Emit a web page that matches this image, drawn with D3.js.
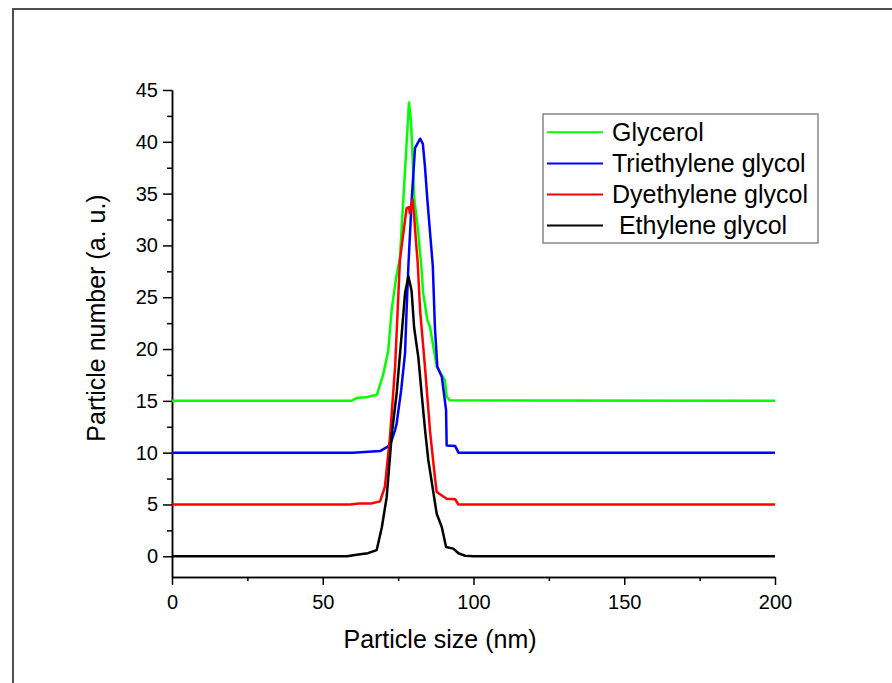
<!DOCTYPE html>
<html>
<head>
<meta charset="utf-8">
<script src="https://cdn.jsdelivr.net/npm/d3@7"></script>
<style>
  html, body { margin: 0; padding: 0; background: #fff; }
  svg { display: block; font-family: "Liberation Sans", Arial, sans-serif; }
</style>
</head>
<body>
<svg id="chart" width="892" height="683"></svg>
<script>
// particle size (nm), particle number (a. u.)
const glycerol = [
  [0, 15], [59.5, 15], [61.5, 15.3], [64.5, 15.35], [68, 15.6], [70, 17.5], [71.7, 19.8],
  [72.9, 23.9], [74.3, 26.8], [75.6, 28.8], [78.6, 43.8], [79.3, 41.8], [79.8, 38.5],
  [80.3, 34.7], [81.6, 31.5], [82.8, 27.6], [83.3, 25.4], [84.7, 22.8], [85.6, 22.1],
  [87.8, 18.3], [90.5, 17], [91.1, 15.4], [92.2, 15.05], [200, 15]
]
const triethylene = [
  [0, 10], [60, 10], [69, 10.15], [72.3, 10.7], [74, 12.2], [74.5, 12.8], [76, 16],
  [77.3, 19.6], [77.8, 23.7], [78.4, 28], [79.5, 34.4], [80.6, 39.4], [82.3, 40.3],
  [83.2, 39.8], [83.9, 37.6], [84.7, 34.4], [85.6, 31.2], [86.5, 28], [87.2, 22.1],
  [88, 18.3], [89.5, 17.3], [90.9, 14.1], [91.1, 10.7], [93.9, 10.65], [95, 10], [200, 10]
]
const dyethylene = [
  [0, 5], [59, 5], [62, 5.1], [66, 5.1], [69, 5.3], [70.6, 6.7], [72.3, 11.5], [74, 18.3],
  [75.6, 28.6], [77.8, 33.6], [78.6, 33.7], [78.9, 33.1], [79.8, 34.4], [80.3, 32.9],
  [80.9, 30.5], [81.5, 28.3], [82.3, 23.7], [83.9, 18.3], [85.6, 12], [87.2, 7.65],
  [87.8, 6.2], [91.1, 5.55], [93.9, 5.5], [95, 5], [200, 5]
]
const ethylene = [
  [0, 0], [58, 0], [62.4, 0.2], [65, 0.3], [67.9, 0.6], [69.6, 2.8], [71.2, 5.7],
  [72.3, 9.6], [72.9, 11.8], [74.5, 15.7], [76.2, 21.5], [77.3, 25.4], [78.4, 27],
  [79.2, 26], [79.5, 25.5], [80.3, 22.1], [81.7, 19.2], [82.8, 15.7], [84, 12], [85, 9.3],
  [87.8, 4.1], [89.5, 2.8], [90.9, 0.9], [93.3, 0.74], [95, 0.29], [97.2, 0.05],
  [100, 0], [200, 0]
]

const seriesNames = ["Glycerol", "Triethylene glycol", "Dyethylene glycol", " Ethylene glycol"]
const seriesColors = ["#00ff00", "#0000ff", "#ff0000", "#000000"]
const seriesData = [glycerol, triethylene, dyethylene, ethylene]

const xMajor = [0, 50, 100, 150, 200]
const xMinor = [25, 75, 125, 175]
const yMajor = [0, 5, 10, 15, 20, 25, 30, 35, 40, 45]
const yMinor = [2.5, 7.5, 12.5, 17.5, 22.5, 27.5, 32.5, 37.5, 42.5]

const svg = d3.select("#chart")

// page frame (left and top edges only are visible)
svg.append("path")
  .attr("d", "M13,683 L13,9 L892,9")
  .attr("fill", "none")
  .attr("stroke", "#505050")
  .attr("stroke-width", 2)

const x = d3.scaleLinear().domain([0, 200]).range([172, 775])
const y = d3.scaleLinear().domain([-2, 45]).range([577, 90])

const styleAxis = (gg, size) => {
  gg.select(".domain").attr("stroke", "#000").attr("stroke-width", 1.5)
  gg.selectAll(".tick line").attr("stroke", "#000").attr("stroke-width", 1.5)
  gg.selectAll(".tick text")
    .attr("font-size", size)
    .attr("fill", "#000")
    .attr("font-family", "'Liberation Sans', Arial, sans-serif")
}

// x axis
svg.append("g")
  .attr("transform", `translate(0,${y(-2)})`)
  .call(d3.axisBottom(x).tickValues(xMinor).tickSize(4).tickFormat("").tickSizeOuter(0))
  .call((gg) => styleAxis(gg, 20))
svg.append("g")
  .attr("transform", `translate(0,${y(-2)})`)
  .call(d3.axisBottom(x).tickValues(xMajor).tickSize(8).tickPadding(10).tickSizeOuter(0))
  .call((gg) => styleAxis(gg, 20))

// y axis
svg.append("g")
  .attr("transform", `translate(${x(0)},0)`)
  .call(d3.axisLeft(y).tickValues(yMinor).tickSize(5).tickFormat("").tickSizeOuter(0))
  .call((gg) => styleAxis(gg, 20))
svg.append("g")
  .attr("transform", `translate(${x(0)},0)`)
  .call(d3.axisLeft(y).tickValues(yMajor).tickSize(9).tickPadding(5).tickSizeOuter(0))
  .call((gg) => styleAxis(gg, 20))

// axis titles
svg.append("text")
  .attr("x", 440)
  .attr("y", 648)
  .attr("text-anchor", "middle")
  .attr("font-size", 25)
  .text("Particle size (nm)")

svg.append("text")
  .attr("transform", "translate(105,318) rotate(-90)")
  .attr("text-anchor", "middle")
  .attr("font-size", 25)
  .text("Particle number (a. u.)")

// lines
const line = d3.line().x((d) => x(d[0])).y((d) => y(d[1]))

svg.append("g")
  .selectAll("path")
  .data(seriesData)
  .join("path")
  .attr("fill", "none")
  .attr("stroke", (d, i) => seriesColors[i])
  .attr("stroke-width", 2.5)
  .attr("stroke-linejoin", "round")
  .attr("d", (d) => line(d))

// legend
const legend = svg.append("g").attr("transform", "translate(543,114)")
legend.append("rect")
  .attr("width", 275)
  .attr("height", 129)
  .attr("fill", "#fff")
  .attr("stroke", "#888")
  .attr("stroke-width", 1.5)

const rows = legend.selectAll("g.row")
  .data(seriesNames)
  .join("g")
  .attr("class", "row")
  .attr("transform", (d, i) => `translate(0,${18.3 + i * 31.1})`)

rows.append("line")
  .attr("x1", 4)
  .attr("x2", 60)
  .attr("stroke", (d, i) => seriesColors[i])
  .attr("stroke-width", 2)

rows.append("text")
  .attr("x", 69)
  .attr("y", 8.5)
  .attr("font-size", 25)
  .style("white-space", "pre")
  .text((d) => d)
</script>
</body>
</html>
